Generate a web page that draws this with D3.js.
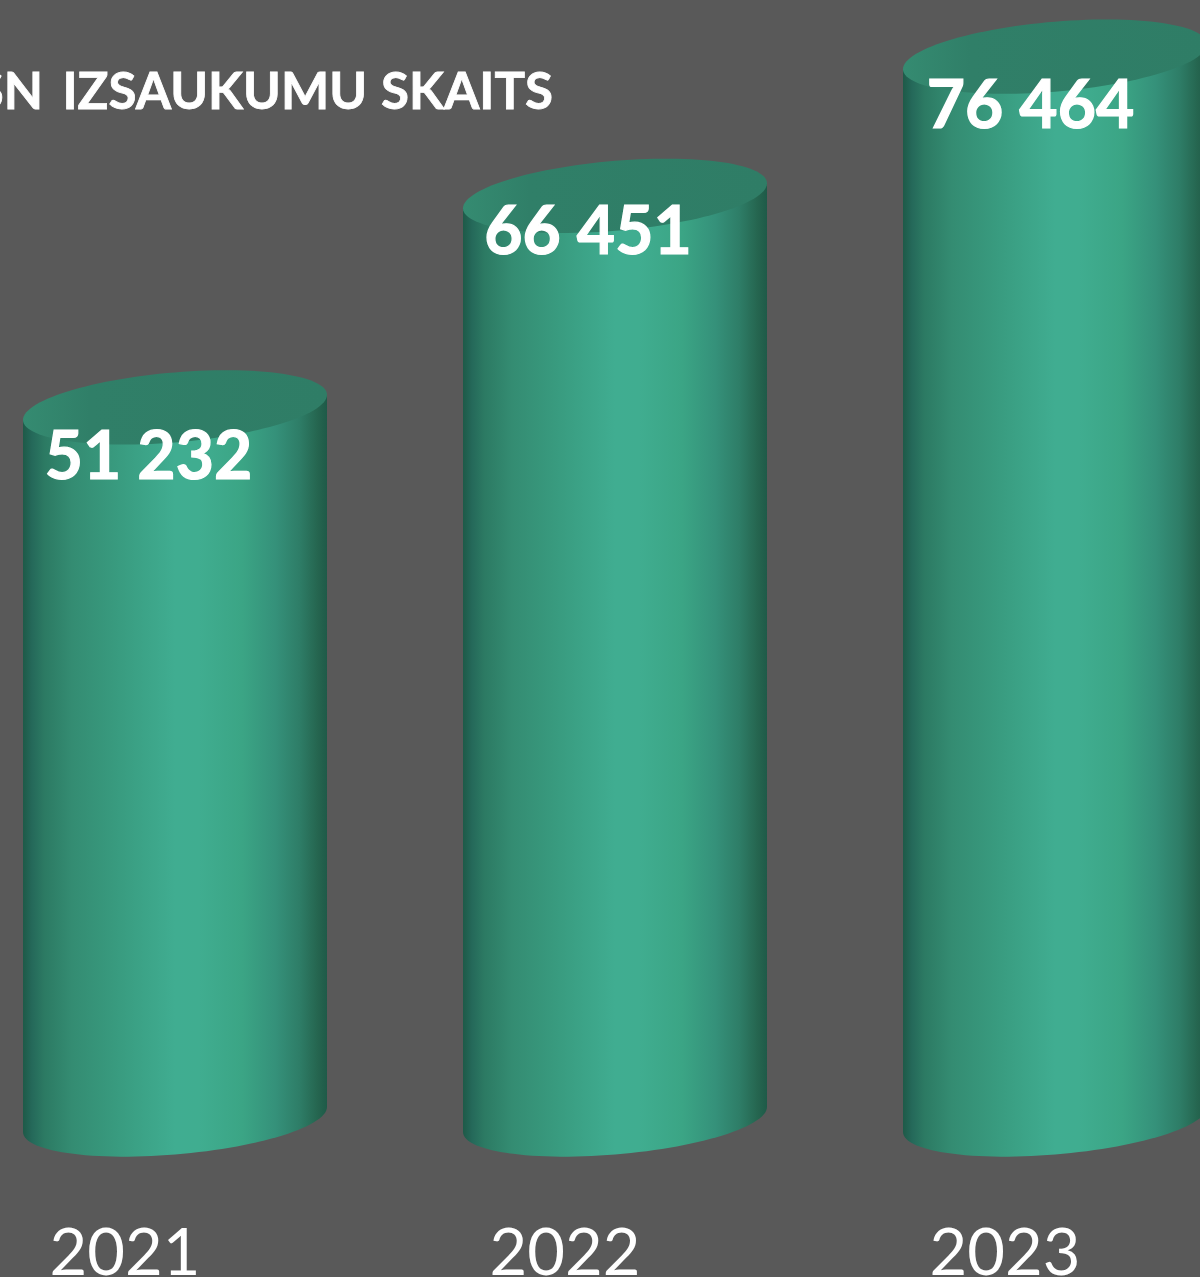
<!DOCTYPE html>
<html>
<head>
<meta charset="utf-8">
<script src="https://cdn.jsdelivr.net/npm/d3@7/dist/d3.min.js"></script>
<style>
html,body{margin:0;padding:0;background:#595959;overflow:hidden}
svg{display:block}
text{font-family:Lato,"Open Sans",sans-serif;fill:#fff}
</style>
</head>
<body>
<svg id="chart" width="1200" height="1277"></svg>
<script>
const years = ["2021", "2022", "2023"];
const calls = [51232, 66451, 76464];
const valueLabels = ["51 232", "66 451", "76 464"];
const titleWords = ["SN", "IZSAUKUMU", "SKAITS"];

const svg = d3.select("#chart");
const W = 1200, H = 1277;
const x = d3.scaleBand().domain(years).range([23, 1207]).paddingInner(136 / 440).paddingOuter(0);
const y = d3.scaleLinear().domain([0, 80000]).range([1119.5, 7.5]);

svg.append("rect").attr("width", W).attr("height", H).attr("fill", "#595959");

const defs = svg.append("defs");
const body = defs.append("linearGradient").attr("id", "bodyGrad");
[[0,"#1e5a48"],[0.03,"#25695a"],[0.07,"#2c7a63"],[0.16,"#348c72"],[0.32,"#399c80"],[0.5,"#40ad91"],[0.58,"#40ad90"],[0.72,"#3ba585"],[0.83,"#35917a"],[0.91,"#2e7d67"],[0.97,"#25654f"],[1,"#1e5a48"]]
  .forEach(s => body.append("stop").attr("offset", s[0]).attr("stop-color", s[1]));
const cap = defs.append("linearGradient").attr("id", "capGrad");
[[0,"#358b71"],[0.22,"#307f68"],[1,"#2f7d66"]]
  .forEach(s => cap.append("stop").attr("offset", s[0]).attr("stop-color", s[1]));

const ry = 35, shear = 12.5;
const ellipsePt = (cx, cy, a, t) => [cx + a * Math.cos(t), cy + ry * Math.sin(t) - shear * Math.cos(t)];
const line = d3.line();

years.forEach((yr, i) => {
  const a = x.bandwidth() / 2, cx = x(yr) + a;
  const yBase = y(0), yTop = y(calls[i]);
  const lower = d3.range(0, 61).map(k => ellipsePt(cx, yBase, a, Math.PI * k / 60));
  const pts = [ellipsePt(cx, yTop, a, 0)].concat(lower, [ellipsePt(cx, yTop, a, Math.PI)]);
  svg.append("path").attr("d", line(pts) + "Z").attr("fill", "url(#bodyGrad)");
  const rim = d3.range(0, 120).map(k => ellipsePt(cx, yTop, a, 2 * Math.PI * k / 120));
  svg.append("path").attr("d", line(rim) + "Z").attr("fill", "url(#capGrad)");
});

const labelOffsetY = [72, 58, 71.5];
const labelOffsetX = [-26.5, -27, -24.5];
years.forEach((yr, i) => {
  svg.append("text")
    .attr("x", x(yr) + x.bandwidth() / 2 + labelOffsetX[i])
    .attr("y", y(calls[i]) + labelOffsetY[i])
    .attr("text-anchor", "middle")
    .attr("font-size", 66).attr("font-weight", 700)
    .attr("stroke", "#fff").attr("stroke-width", 1.2)
    .text(valueLabels[i]);
});

const axis = svg.append("g").attr("transform", "translate(-50,1229)")
  .call(d3.axisBottom(x).tickSize(0).tickPadding(0));
axis.select(".domain").remove();
axis.selectAll("text").attr("font-size", 65).attr("dy", 0).attr("y", 46)
  .style("font-family", "Lato").style("fill", "#fff");

const titleEnds = [43, 367, 553];
const title = svg.append("text").attr("y", 109).attr("text-anchor", "end")
  .attr("font-size", 51).attr("font-weight", 700)
  .attr("stroke", "#fff").attr("stroke-width", 0.8);
titleWords.forEach((w, i) => title.append("tspan").attr("x", titleEnds[i]).text(w));
</script>
</body>
</html>
